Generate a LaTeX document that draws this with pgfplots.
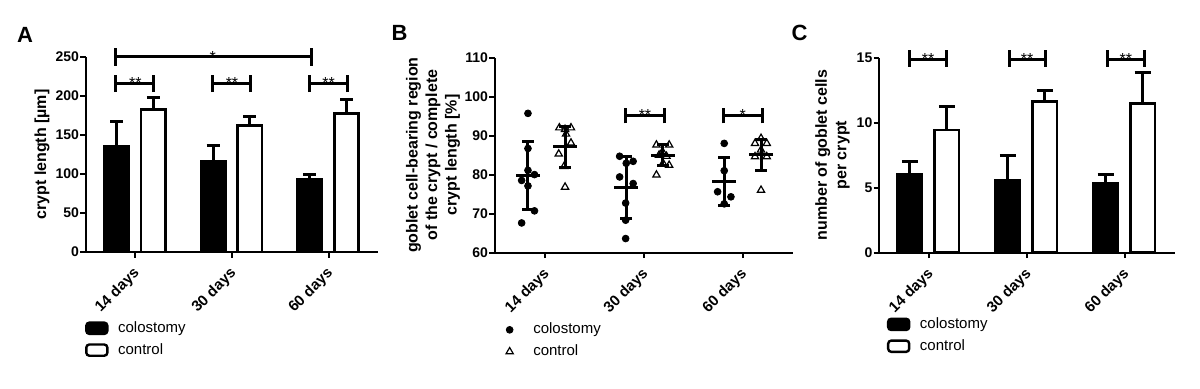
\documentclass[border=0pt]{standalone}
\usepackage{pgfplots}
\pgfplotsset{compat=1.18}
\usepackage{fontspec}
\setmainfont{Liberation Sans}

\tikzset{
  sig/.style={line width=1.5pt, black},
  star/.style={font=\fontsize{8}{9}\selectfont, anchor=base, inner sep=0pt, yshift=-2.6pt},
}
\pgfplotsset{
  panel/.style={
    scale only axis,
    height=97.5pt,
    axis x line*=bottom, axis y line*=left,
    axis line style={-, line width=1pt},
    xmin=-0.51, xmax=2.51,
    xtick={0,1,2}, xticklabels={14 days,30 days,60 days},
    x tick label style={rotate=45, anchor=east, font=\bfseries\fontsize{7.5}{9}\selectfont, inner sep=1pt, yshift=-5.5pt, xshift=-3pt},
    y tick label style={font=\bfseries\fontsize{7}{8}\selectfont, inner sep=0.5pt},
    /pgf/number format/assume math mode=true,
    tick style={black, line width=1pt},
    major tick length=2.8pt,
    tick align=outside,
    ylabel style={font=\bfseries\fontsize{8}{9.75}\selectfont, align=center, anchor=center},
    clip=false,
    legend style={draw=none, fill=none, inner sep=0pt, outer sep=0pt,
      font=\fontsize{7.5}{9}\selectfont, row sep=0pt, column sep=2.8pt},
    legend cell align=left,
  },
  boxleg/.style={legend image code/.code={\draw[##1, line width=1.2pt, rounded corners=1.5pt] (0pt,-2.8pt) rectangle (10.5pt,2.8pt);}},
  errs/.style={
    error bars/y dir=plus, error bars/y explicit, error bars/error mark=|,
    error bars/error bar style={line width=1.5pt, black},
    error bars/error mark options={black, line width=1.5pt, mark size=#1}},
  colbar/.style={ybar, bar width=0.25, bar shift=0, fill=black, draw=black, line width=1.35pt, errs=#1},
  ctlbar/.style={ybar, bar width=0.25, bar shift=0, fill=white, draw=black, line width=1.35pt, errs=#1},
}
\newcommand{\sigbar}[5]{% x1, x2, y, ylow, yhigh
  \draw[sig] (axis cs:#1,#4) -- (axis cs:#1,#5) (axis cs:#1,#3) -- (axis cs:#2,#3) (axis cs:#2,#4) -- (axis cs:#2,#5);
}

\begin{document}
\begin{tikzpicture}
\path[use as bounding box] (0,0) rectangle (600pt,194.5pt);

% ---------------- Panel A ----------------
\begin{axis}[panel, at={(43pt,68.5pt)}, anchor=south west, width=146pt,
  ymin=0, ymax=250, ytick={0,50,...,250},
  ylabel={crypt length [µm]},
  ylabel style={at={(axis description cs:-0.151,0.5)}},
  legend style={at={(axis description cs:-0.003,-0.335)}, anchor=north west}]
\addplot[colbar=3.2pt, boxleg] coordinates {(-0.195,135.5) +- (0,32) (0.805,116) +- (0,20.6) (1.805,93) +- (0,6)};
\addlegendentry{colostomy}
\addplot[ctlbar=3.2pt, boxleg] coordinates {(0.185,183) +- (0,15) (1.185,162) +- (0,11.6) (2.185,178) +- (0,17)};
\addlegendentry{control}
\sigbar{-0.205}{1.82}{250}{239}{261}
\node[star] at (axis cs:0.8,250) {*};
\sigbar{-0.2}{0.19}{216}{205}{227}
\node[star] at (axis cs:0,216) {**};
\sigbar{0.8}{1.19}{216}{205}{227}
\node[star] at (axis cs:1,216) {**};
\sigbar{1.8}{2.19}{216}{205}{227}
\node[star] at (axis cs:2,216) {**};
\end{axis}

% ---------------- Panel B ----------------
\begin{axis}[panel, at={(247.5pt,68.2pt)}, anchor=south west, width=149pt,
  ymin=60, ymax=110, ytick={60,70,...,110},
  ylabel={goblet cell-bearing region\\of the crypt / complete\\crypt length [\%]},
  ylabel style={at={(axis description cs:-0.208,0.5)}},
  legend style={at={(axis description cs:0.037,-0.34)}, anchor=north west, column sep=8pt}]
\addplot[only marks, mark=*, mark size=1.7pt, black] coordinates {
 (-0.176,95.7) (-0.176,86.7) (-0.176,81.1) (-0.11,80.0) (-0.24,78.5) (-0.176,77.1) (-0.11,70.7) (-0.24,67.6)
 (0.753,84.7) (0.82,82.9) (0.89,83.4) (0.753,79.4) (0.89,77.7) (0.814,72.7) (0.814,68.3) (0.814,63.6)
 (1.813,88.0) (1.813,81.0) (1.746,75.6) (1.881,74.3) (1.813,72.5)};
\addlegendentry{colostomy}
\addplot[only marks, mark=triangle, mark size=2.1pt, black, mark options={line width=0.6pt}] coordinates {
 (0.142,92.0) (0.26,92.0) (0.2,91.6) (0.21,90.4) (0.26,88.1) (0.136,85.3) (0.19,82.1) (0.2,76.8)
 (1.126,87.6) (1.255,87.6) (1.187,85.9) (1.153,85.0) (1.228,84.7) (1.193,82.9) (1.255,82.4) (1.126,79.9)
 (2.186,89.3) (2.125,88.0) (2.244,88.0) (2.186,86.3) (2.125,84.6) (2.244,84.6) (2.186,76.0)};
\addlegendentry{control}
\addplot[forget plot, only marks, mark=-, mark size=6pt, black, mark options={line width=1.5pt},
  error bars/y dir=both, error bars/y explicit, error bars/error mark=|,
  error bars/error bar style={line width=1.5pt, black},
  error bars/error mark options={black, line width=1.5pt, mark size=2.9pt}] coordinates {
 (-0.176,79.8) +- (0,8.8) (0.2,87.1) +- (0,5.3)
 (0.82,76.7) +- (0,7.9) (1.19,85.0) +- (0,2.7)
 (1.813,78.3) +- (0,6.1) (2.186,85.1) +- (0,4.0)};
\sigbar{0.81}{1.21}{95.2}{93.1}{97.2}
\node[star] at (axis cs:1.01,95.2) {**};
\sigbar{1.803}{2.2}{95.2}{93.1}{97.2}
\node[star] at (axis cs:2.0,95.2) {*};
\end{axis}

% ---------------- Panel C ----------------
\begin{axis}[panel, at={(439.65pt,68.2pt)}, anchor=south west, width=147.85pt,
  ymin=0, ymax=15, ytick={0,5,10,15},
  ylabel={number of goblet cells\\per crypt},
  ylabel style={at={(axis description cs:-0.158,0.5)}},
  legend style={at={(axis description cs:0.026,-0.312)}, anchor=north west}]
\addplot[colbar=4pt, boxleg] coordinates {(-0.198,6.04) +- (0,1.0) (0.802,5.58) +- (0,1.92) (1.802,5.3) +- (0,0.74)};
\addlegendentry{colostomy}
\addplot[ctlbar=4pt, boxleg] coordinates {(0.18,9.42) +- (0,1.84) (1.18,11.6) +- (0,0.89) (2.18,11.47) +- (0,2.35)};
\addlegendentry{control}
\sigbar{-0.205}{0.18}{14.85}{14.28}{15.56}
\node[star] at (axis cs:-0.012,14.85) {**};
\sigbar{0.815}{1.19}{14.85}{14.28}{15.56}
\node[star] at (axis cs:1.0,14.85) {**};
\sigbar{1.82}{2.195}{14.85}{14.28}{15.56}
\node[star] at (axis cs:2.007,14.85) {**};
\end{axis}

\node[font=\bfseries\fontsize{11}{12}\selectfont] at (12.5pt,177pt) {A};
\node[font=\bfseries\fontsize{11}{12}\selectfont] at (199.75pt,178.25pt) {B};
\node[font=\bfseries\fontsize{11}{12}\selectfont] at (399.75pt,178.25pt) {C};
\end{tikzpicture}
\end{document}
